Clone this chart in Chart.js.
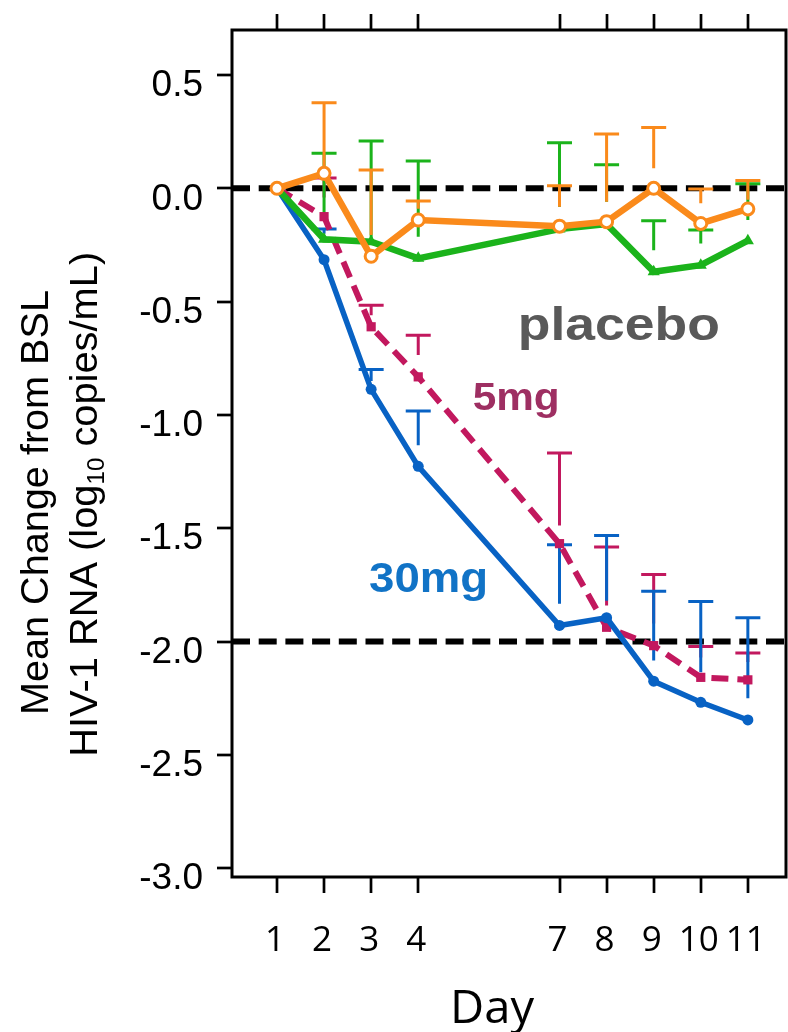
<!DOCTYPE html>
<html><head><meta charset="utf-8">
<script src="https://cdn.jsdelivr.net/npm/chart.js@4/dist/chart.umd.min.js"></script>
<style>html,body{margin:0;padding:0;background:#fff;overflow:hidden}canvas{display:block}</style>
</head><body>
<canvas id="c" width="788" height="1032"></canvas>
<script>
// ---------- data ----------
const days = [1, 2, 3, 4, 7, 8, 9, 10, 11];
const xTickLabels = ['1', '2', '3', '4', '7', '8', '9', '10', '11'];
const yTicks = [0.5, 0, -0.5, -1, -1.5, -2, -2.5, -3];
const yTickLabels = ['0.5', '0.0', '-0.5', '-1.0', '-1.5', '-2.0', '-2.5', '-3.0'];
const refLines = [0, -2];

// placebo (orange, open circles)
const placeboA_mean = [0, 0.066, -0.30, -0.14, -0.167, -0.147, 0.0, -0.155, -0.091];
const placeboA_errHi = [null, 0.378, 0.081, -0.056, 0.011, 0.24, 0.268, -0.003, 0.035];
const placeboA_errLo = [null, 0.066, -0.206, -0.09, -0.081, -0.059, 0.088, -0.066, -0.05];
// placebo (green, triangles)
const placeboB_mean = [0, -0.225, -0.236, -0.309, -0.18, -0.158, -0.368, -0.339, -0.231];
const placeboB_errHi = [null, 0.155, 0.209, 0.121, 0.201, 0.104, -0.143, -0.184, 0.02];
const placeboB_errLo = [null, -0.125, -0.228, -0.214, -0.081, -0.059, -0.273, -0.243, -0.14];
// 30 mg (blue, filled circles)
const dose30_mean = [0, -0.315, -0.887, -1.227, -1.929, -1.895, -2.175, -2.268, -2.346];
const dose30_errHi = [null, -0.18, -0.80, -0.983, -1.573, -1.532, -1.778, -1.823, -1.895];
const dose30_errLo = [null, -0.20, -0.85, -1.134, -1.833, -1.82, -2.084, -2.135, -2.25];
// 5 mg (magenta, squares, dashed)
const dose5_mean = [0, -0.125, -0.611, -0.832, -1.568, -1.937, -2.018, -2.158, -2.169];
const dose5_errHi = [null, 0.045, -0.516, -0.648, -1.168, -1.583, -1.704, -2.022, -2.05];
const dose5_errLo = [null, -0.04, -0.56, -0.736, -1.488, -1.841, -1.92, -2.07, -2.09];

// ---------- style / layout ----------
const X_MIN = 0.045, X_MAX = 11.81, Y_MIN = -3.039, Y_MAX = 0.6986;
const C_ORANGE = '#FA8A1B', C_GREEN = '#1BB31B', C_BLUE = '#0862C4', C_MAG = '#C2185E';

const pts = (vals) => days.map((d, i) => ({x: d, y: vals[i]}));

const errSeries = [
  {color: C_MAG, hi: dose5_errHi, lo: dose5_errLo},
  {color: C_BLUE, hi: dose30_errHi, lo: dose30_errLo},
  {color: C_GREEN, hi: placeboB_errHi, lo: placeboB_errLo},
  {color: C_ORANGE, hi: placeboA_errHi, lo: placeboA_errLo}
];

const annotations = [
  {text: 'placebo', x: 8.26, y: -0.669, font: 'bold 46px "Liberation Sans", Arial, sans-serif', width: 202, color: '#595959'},
  {text: '5mg', x: 6.08, y: -0.978, font: 'bold 38px "Liberation Sans", Arial, sans-serif', width: 87, color: '#9E2F62'},
  {text: '30mg', x: 4.219, y: -1.781, font: 'bold 42px "Liberation Sans", Arial, sans-serif', width: 119, color: '#1173C6'}
];

function scaledText(ctx, text, x, y, width) {
  const w = ctx.measureText(text).width;
  ctx.save();
  ctx.translate(x, y);
  ctx.scale(width / w, 1);
  ctx.textAlign = 'center';
  ctx.textBaseline = 'alphabetic';
  ctx.fillText(text, 0, 0);
  ctx.restore();
}

let errDrawn = false;
const customPlugin = {
  id: 'custom',
  beforeDraw() { errDrawn = false; },
  beforeDatasetDraw(chart, args) {
    if (errDrawn || chart.data.datasets[args.index].isRef) return;
    errDrawn = true;
    const ctx = chart.ctx, xs = chart.scales.x, ys = chart.scales.y;
    ctx.save();
    ctx.lineWidth = 3;
    ctx.lineCap = 'butt';
    errSeries.forEach(s => {
      ctx.strokeStyle = s.color;
      days.forEach((d, i) => {
        if (s.hi[i] == null) return;
        const px = xs.getPixelForValue(d);
        const yh = ys.getPixelForValue(s.hi[i]);
        const yl = ys.getPixelForValue(s.lo[i]);
        ctx.beginPath();
        ctx.moveTo(px, yl); ctx.lineTo(px, yh);
        ctx.moveTo(px - 12.5, yh); ctx.lineTo(px + 12.5, yh);
        ctx.stroke();
      });
    });
    ctx.restore();
  },
  afterDatasetsDraw(chart) {
    const ctx = chart.ctx, a = chart.chartArea, xs = chart.scales.x, ys = chart.scales.y;
    ctx.save();
    annotations.forEach(t => {
      ctx.font = t.font;
      ctx.fillStyle = t.color;
      scaledText(ctx, t.text, xs.getPixelForValue(t.x), ys.getPixelForValue(t.y), t.width);
    });
    ctx.strokeStyle = '#000';
    ctx.lineWidth = 3;
    ctx.strokeRect(a.left, a.top, a.right - a.left, a.bottom - a.top);
    ctx.restore();
  },
  afterDraw(chart) {
    const ctx = chart.ctx;
    ctx.save();
    ctx.fillStyle = '#000';
    // x title
    ctx.font = '46px "Open Sans", sans-serif';
    scaledText(ctx, 'Day', 492, 1022.7, 84);
    // y title line 1
    ctx.font = '38px "Liberation Sans", Arial, sans-serif';
    ctx.save();
    ctx.translate(48.3, 502.5);
    ctx.rotate(-Math.PI / 2);
    scaledText(ctx, 'Mean Change from BSL', 0, 0, 425);
    ctx.restore();
    // y title line 2 with subscript
    const big = '38px "Liberation Sans", Arial, sans-serif';
    const small = '23px "Liberation Sans", Arial, sans-serif';
    const parts = [
      {t: 'HIV-1 RNA (log', f: big, dy: 0},
      {t: '10', f: small, dy: 7},
      {t: ' copies/mL)', f: big, dy: 0}
    ];
    let total = 0;
    parts.forEach(p => { ctx.font = p.f; p.w = ctx.measureText(p.t).width; total += p.w; });
    ctx.save();
    ctx.translate(96.7, 504.3);
    ctx.rotate(-Math.PI / 2);
    ctx.scale(505 / total, 1);
    ctx.textAlign = 'left';
    ctx.textBaseline = 'alphabetic';
    let cx = -total / 2;
    parts.forEach(p => { ctx.font = p.f; ctx.fillText(p.t, cx, p.dy); cx += p.w; });
    ctx.restore();
    ctx.restore();
  }
};

const tickGrid = {drawOnChartArea: false, drawTicks: true, tickLength: 16, tickWidth: 2.7, tickColor: '#000', lineWidth: 0};

const datasets = [
  ...refLines.map(r => ({
    isRef: true, data: [{x: X_MIN, y: r}, {x: X_MAX, y: r}],
    borderColor: '#000', borderWidth: 6, borderDash: [18, 8.7], borderCapStyle: 'butt',
    pointRadius: 0, order: 10
  })),
  {label: '5mg', data: pts(dose5_mean), borderColor: C_MAG, backgroundColor: C_MAG,
   borderWidth: 6, borderDash: [17, 9], pointStyle: 'rect', pointRadius: 6.5, pointBorderWidth: 0,
   pointBackgroundColor: C_MAG, order: 4},
  {label: '30mg', data: pts(dose30_mean), borderColor: C_BLUE, backgroundColor: C_BLUE,
   borderWidth: 5.5, pointStyle: 'circle', pointRadius: 5.5, pointBorderWidth: 0,
   pointBackgroundColor: C_BLUE, order: 3},
  {label: 'placebo B', data: pts(placeboB_mean), borderColor: C_GREEN, backgroundColor: C_GREEN,
   borderWidth: 6.5, pointStyle: 'triangle', pointRadius: 7, pointBorderWidth: 0,
   pointBackgroundColor: C_GREEN, order: 2},
  {label: 'placebo A', data: pts(placeboA_mean), borderColor: C_ORANGE, backgroundColor: '#fff',
   borderWidth: 6.5, pointStyle: 'circle', pointRadius: 6, pointBorderWidth: 3,
   pointBorderColor: C_ORANGE, pointBackgroundColor: '#fff', order: 1}
];

const noPadX = s => { s.paddingLeft = 0; s.paddingRight = 0; };

new Chart(document.getElementById('c'), {
  type: 'line',
  data: {datasets},
  options: {
    responsive: false, animation: false, events: [],
    layout: {autoPadding: false, padding: {left: 0, right: 2, top: 0, bottom: 0}},
    plugins: {legend: {display: false}, tooltip: {enabled: false}},
    elements: {line: {tension: 0}},
    scales: {
      x: {
        type: 'linear', position: 'bottom', min: X_MIN, max: X_MAX,
        grid: tickGrid, border: {display: false},
        afterBuildTicks: s => { s.ticks = days.map(v => ({value: v})); },
        afterFit: s => { s.height = 155; noPadX(s); },
        ticks: {
          autoSkip: false, maxRotation: 0, minRotation: 0, padding: 27, labelOffset: -2,
          color: '#000', font: {family: '"Open Sans", sans-serif', size: 35},
          callback: (v, i) => xTickLabels[i]
        }
      },
      xTop: {
        type: 'linear', position: 'top', min: X_MIN, max: X_MAX,
        grid: tickGrid, border: {display: false},
        afterBuildTicks: s => { s.ticks = days.map(v => ({value: v})); },
        afterFit: s => { s.height = 30; noPadX(s); },
        ticks: {display: false}
      },
      y: {
        type: 'linear', position: 'left', min: Y_MIN, max: Y_MAX,
        grid: Object.assign({}, tickGrid, {tickLength: 15}), border: {display: false},
        afterBuildTicks: s => { s.ticks = yTicks.map(v => ({value: v})); },
        afterFit: s => { s.width = 232; s.paddingTop = 0; s.paddingBottom = 0; },
        ticks: {
          autoSkip: false, padding: 14, labelOffset: 11,
          color: '#000', font: {family: '"Liberation Sans", Arial, sans-serif', size: 37},
          callback: (v, i) => yTickLabels[i]
        }
      }
    }
  },
  plugins: [customPlugin]
});
</script>
</body></html>
